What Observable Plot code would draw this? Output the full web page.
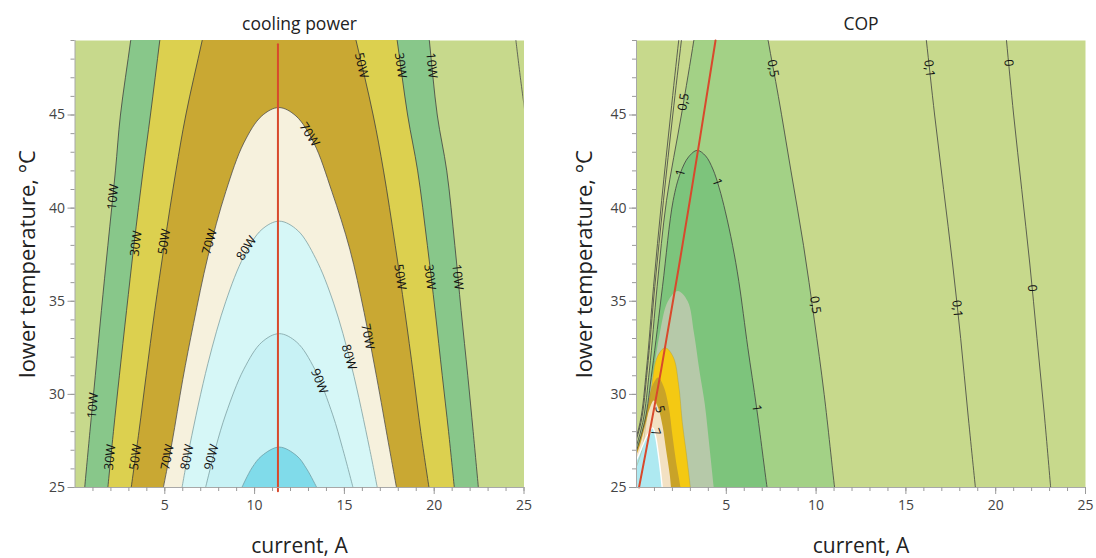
<!DOCTYPE html>
<html><head><meta charset="utf-8">
<script src="https://cdn.jsdelivr.net/npm/d3@7"></script>
<script src="https://cdn.jsdelivr.net/npm/@observablehq/plot@0.6"></script>
<style>
body{margin:0;background:#fff;}
#wrap{position:relative;width:1096px;height:558px;font-family:"Open Sans",sans-serif;}
#left,#right{position:absolute;top:0;}
#left{left:0}#right{left:548px}
</style></head><body><div id="wrap"><div id="left"></div><div id="right"></div></div>
<script>
// ---------- shared ticks ----------
const xMajor = [5, 10, 15, 20, 25];
const xMinor = d3.range(1, 26);
const yMajor = [25, 30, 35, 40, 45];
const yMinor = d3.range(25, 50);

// ---------- cooling power contours (current A, lower temperature °C) ----------
const cp10 = [[0.54,25],[0.83,28],[1.13,31],[1.47,34.5],[1.83,38],[2.25,42],[2.53,45],[3.1,49],[3.5,52],[19.4,52],[19.73,49],[20.17,45],[20.7,42],[21.15,38],[21.5,34.5],[21.87,31],[22.17,28],[22.46,25]];
const cp30 = [[1.83,25],[2.14,28],[2.47,31],[2.87,34.5],[3.28,38],[3.79,42],[4.2,45],[4.72,49],[5.1,52],[17.5,52],[17.94,49],[18.52,45],[19.08,42],[19.62,38],[20.05,34.5],[20.45,31],[20.8,28],[21.12,25]];
const cp50 = [[3.13,25],[3.56,28],[3.96,31],[4.44,34.5],[4.97,38],[5.62,42],[6.17,45],[7.08,49],[7.75,52],[14.9,52],[15.65,49],[16.6,45],[17.18,42],[17.83,38],[18.36,34.5],[18.85,31],[19.25,28],[19.71,25]];
const cp70 = [[4.92,25],[5.4,27.4],[6.0,30.8],[6.6,33.8],[7.4,37.4],[8.4,40.9],[9.4,43.5],[10.4,44.95],[11.35,45.4],[12.3,44.95],[13.3,43.5],[14.3,40.9],[15.3,37.8],[16.1,34.4],[16.8,30.9],[17.45,27.4],[17.9,25]];
const cp80 = [[5.96,25],[6.4,27.3],[7.4,31.65],[8.4,35.0],[9.4,37.4],[10.4,38.85],[11.38,39.3],[12.4,38.8],[13.4,37.3],[14.4,34.9],[15.4,31.5],[16.4,27.1],[16.83,25]];
const cp90 = [[7.27,25],[7.85,27.2],[8.4,28.95],[9.4,31.35],[10.4,32.8],[11.37,33.26],[12.35,32.8],[13.35,31.35],[14.35,28.9],[14.9,27.1],[15.48,25]];
const cp100 = [[9.29,25],[9.85,26.05],[10.4,26.7],[11.37,27.17],[12.35,26.7],[12.9,26.0],[13.46,25]];
const cpEdge = [[24.55,49],[24.8,47],[25.1,44.8]];
const cpRed = [[11.3,24.8],[11.3,48.8]];
const cpLabelText = ["10W","30W","50W","70W","80W","90W","10W","30W","50W","70W","80W","50W","30W","10W","70W","50W","30W","10W","70W","80W","90W"];
const cpLabelX = [1.0,1.95,3.37,5.15,6.25,7.6,2.12,3.4,4.97,7.5,9.55,15.95,18.13,19.85,13.05,18.1,19.75,21.3,16.3,15.25,13.6];
const cpLabelY = [29.4,26.63,26.63,26.63,26.63,26.63,40.6,38.1,38.2,38.2,37.85,47.66,47.66,47.66,43.95,36.3,36.3,36.3,33.1,32.0,30.7];
const cpLabelOn = [0,1,2,3,4,5,0,1,2,3,4,2,1,0,3,2,1,0,3,4,5];

// ---------- COP contours ----------
const cop0L = [[-0.4,26.5],[0.2,28.5],[0.55,31.3],[0.95,35.8],[1.4,40.4],[1.9,45],[2.35,49],[2.6,51]];
const cop0R = [[20.4,51],[20.6,49],[21.0,45],[21.45,41],[21.9,37],[22.3,33],[22.7,29],[23.06,25]];
const cop01L = [[-0.4,26.4],[0.25,28.5],[0.6,31.3],[1.02,35.8],[1.5,40.4],[2.02,45],[2.5,49],[2.75,51]];
const cop01R = [[15.9,51],[16.14,49],[16.6,45],[17.1,41],[17.6,37],[18.05,33],[18.45,29],[18.87,25]];
const cop05 = [[-0.6,24.5],[-0.3,26.2],[0.35,28.5],[0.72,31.3],[1.15,35.8],[1.67,40.4],[2.5,45],[3.19,49],[3.5,51],[7.0,51],[7.33,49],[7.9,46],[8.6,42],[9.3,38],[9.9,34],[10.45,30],[11.03,25],[11.1,24.5]];
const cop1 = [[-0.6,24.5],[-0.3,26],[0.45,28.5],[0.87,31.3],[1.45,35.8],[2.04,40.4],[2.45,41.9],[2.9,42.75],[3.38,43.1],[3.85,42.8],[4.25,42.1],[4.6,41.1],[4.95,39.8],[5.35,38],[5.7,36.05],[6.2,32.5],[6.69,29.26],[7.27,25],[7.35,24.5]];
const cop2 = [[-0.6,24.3],[-0.3,25.5],[0.3,27.5],[0.6,29.5],[0.95,31.3],[1.3,33.3],[1.75,35],[2.3,35.55],[2.85,35],[3.2,33.3],[3.5,31.3],[3.8,29.5],[4.05,27.3],[4.3,25],[4.35,24.5]];
const cop3 = [[-0.6,24.3],[-0.2,25.6],[0.3,27],[0.55,28.6],[0.85,30.5],[1.15,32],[1.6,32.5],[2.05,32],[2.35,30.5],[2.55,28.5],[2.78,26.8],[3.0,25],[3.05,24.5]];
const cop4 = [[-0.6,24.3],[-0.2,26.5],[0.1,27.3],[0.4,28.4],[0.65,29.5],[0.88,30.45],[1.2,30.9],[1.5,30.45],[1.8,29.3],[2.0,27.8],[2.2,26.4],[2.45,25],[2.5,24.5]];
const cop5 = [[-0.6,24.3],[-0.2,26.2],[0.2,27.3],[0.5,28.4],[0.72,29.2],[0.96,29.67],[1.2,29.3],[1.45,28.3],[1.65,27],[1.85,25.7],[1.92,25],[1.95,24.5]];
const cop7 = [[-0.6,24.3],[-0.3,25.8],[0.15,26.8],[0.55,27.7],[0.9,28.2],[1.05,27.8],[1.2,26.9],[1.32,26],[1.43,25],[1.45,24.5]];
const copRed = [[0.14,25],[1.37,31.3],[2.97,40.4],[4.4,49]];
const copLabelText = ["0","0","0,1","0,1","0,5","0,5","0,5","1","1","1","5","7"];
const copLabelX = [20.72,22.03,16.3,17.85,7.6,9.95,2.62,2.45,4.49,6.69,1.3,1.06];
const copLabelY = [47.8,35.7,47.5,34.6,47.5,34.8,45.7,41.9,41.4,29.26,29.2,27.97];
const copLabelOn = [0,0,1,1,2,2,2,3,3,3,4,5];

// ---------- styles ----------
const cpFillColors = ["#88c78a","#dcd04f","#c9a833","#f6f1dd","#d6f7f7","#c8f2f5","#80dbea"];
const cpLineColors = ["#3f3f3f","#3f3f3f","#3f3f3f","#4f4f4f","#7d9fa2","#7d9fa2","#6e9ea6"];
const copFillColors = ["#a3d186","#7dc47c","#b6c9a9","#f4c913","#c9a328","#f3e1c3","#aee9f1"];
const bgColor = "#c7d98c";
const FONT = "'Open Sans', sans-serif";

const kx = 449 / 25, ky = 447 / 24;
const pts = a => a.map(([x, y]) => ({x, y}));

function angleAt(c, x, y) {
  let best = null, bd = Infinity;
  for (let i = 0; i < c.length - 1; i++) {
    const ax = c[i][0] * kx, ay = -c[i][1] * ky, bx = c[i+1][0] * kx, by = -c[i+1][1] * ky;
    const px = x * kx, py = -y * ky;
    const vx = bx - ax, vy = by - ay;
    const t = Math.max(0, Math.min(1, ((px - ax) * vx + (py - ay) * vy) / (vx * vx + vy * vy || 1)));
    const d = (ax + t * vx - px) ** 2 + (ay + t * vy - py) ** 2;
    if (d < bd) { bd = d; best = [vx, vy]; }
  }
  let [dx, dy] = best;
  if (dx < 0 || (dx === 0 && dy < 0)) { dx = -dx; dy = -dy; }
  return Math.atan2(dy, dx) * 180 / Math.PI;
}

function axes() {
  return [
    Plot.ruleY([25], {stroke: "#a8a8a8", strokeWidth: 1}),
    Plot.ruleX([0], {stroke: "#a8a8a8", strokeWidth: 1}),
    Plot.axisX(xMinor, {tickSize: 4, tickFormat: () => "", stroke: "#9a9a9a", label: null}),
    Plot.axisX(xMajor, {tickSize: 7, tickPadding: 6, fontSize: 14, stroke: "#9a9a9a", fill: "#444", label: null}),
    Plot.axisY(yMinor, {tickSize: 4, tickFormat: () => "", stroke: "#9a9a9a", label: null}),
    Plot.axisY(yMajor, {tickSize: 7, tickPadding: 3, fontSize: 14, stroke: "#9a9a9a", fill: "#444", label: null})
  ];
}

function titles(title, ydx) {
  return [
    Plot.text([title], {text: d => d, frameAnchor: "top", lineAnchor: "middle", dy: -16, fontSize: 17.5, fill: "#222"}),
    Plot.text(["current, A"], {text: d => d, frameAnchor: "bottom", lineAnchor: "middle", dy: 59, fontSize: 21, fill: "#222"}),
    Plot.text(["lower temperature, °C"], {text: d => d, frameAnchor: "left", textAnchor: "middle", lineAnchor: "middle", dx: ydx, rotate: -90, fontSize: 22, fill: "#222"})
  ];
}

// ---------- left: cooling power ----------
const cpContours = [cp10, cp30, cp50, cp70, cp80, cp90, cp100];
const cpLabels = cpLabelText.map((t, i) => ({t, x: cpLabelX[i], y: cpLabelY[i], r: angleAt(cpContours[cpLabelOn[i]], cpLabelX[i], cpLabelY[i])}));

const left = Plot.plot({
  width: 548, height: 558,
  marginLeft: 74.5, marginRight: 24.5, marginTop: 40, marginBottom: 71,
  x: {domain: [0, 25], axis: null},
  y: {domain: [25, 49], axis: null},
  style: {fontFamily: FONT, background: "white", overflow: "visible"},
  marks: [
    Plot.frame({fill: bgColor, stroke: "none"}),
    ...cpContours.map((c, i) => Plot.line(pts(c), {x: "x", y: "y", fill: cpFillColors[i], stroke: "none", curve: "catmull-rom", clip: true})),
    ...cpContours.map((c, i) => Plot.line(pts(c), {x: "x", y: "y", stroke: cpLineColors[i], strokeWidth: 0.8, curve: "catmull-rom", clip: true})),
    Plot.line(pts(cpEdge), {x: "x", y: "y", stroke: "#4a4a4a", strokeWidth: 0.8, curve: "catmull-rom", clip: true}),
    Plot.line(pts(cpRed), {x: "x", y: "y", stroke: "#d8492c", strokeWidth: 2}),
    Plot.text(cpLabels, {x: "x", y: "y", text: "t", rotate: "r", fontSize: 12.5, fill: "#111"}),
    ...axes(),
    ...titles("cooling power", -47.5)
  ]
});
document.getElementById("left").append(left);

// ---------- right: COP ----------
const copFills = [cop05, cop1, cop2, cop3, cop4, cop5, cop7];
const copLabelLines = [cop0R, cop01R, cop05, cop1, cop5, cop7];
const copLabels = copLabelText.map((t, i) => ({t, x: copLabelX[i], y: copLabelY[i], r: angleAt(copLabelLines[copLabelOn[i]], copLabelX[i], copLabelY[i])}));

const right = Plot.plot({
  width: 548, height: 558,
  marginLeft: 88, marginRight: 11, marginTop: 40, marginBottom: 71,
  x: {domain: [0, 25], axis: null},
  y: {domain: [25, 49], axis: null},
  style: {fontFamily: FONT, background: "white", overflow: "visible"},
  marks: [
    Plot.frame({fill: bgColor, stroke: "none"}),
    ...copFills.map((c, i) => Plot.line(pts(c), {x: "x", y: "y", fill: copFillColors[i], stroke: "none", curve: "catmull-rom", clip: true})),
    Plot.line(pts(cop3), {x: "x", y: "y", stroke: "#9a8a2a", strokeOpacity: 0.5, strokeWidth: 0.6, curve: "catmull-rom", clip: true}),
    Plot.line(pts(cop7), {x: "x", y: "y", stroke: "#ffffff", strokeWidth: 1.4, curve: "catmull-rom", clip: true}),
    ...[cop0L, cop0R, cop01L, cop01R, cop05, cop1].map(c => Plot.line(pts(c), {x: "x", y: "y", stroke: "#404040", strokeWidth: 0.8, curve: "catmull-rom", clip: true})),
    Plot.line(pts(copRed), {x: "x", y: "y", stroke: "#d8492c", strokeWidth: 2, curve: "catmull-rom"}),
    Plot.text(copLabels, {x: "x", y: "y", text: "t", rotate: "r", fontSize: 12.5, fill: "#111"}),
    ...axes(),
    ...titles("COP", -52)
  ]
});
document.getElementById("right").append(right);
</script></body></html>
